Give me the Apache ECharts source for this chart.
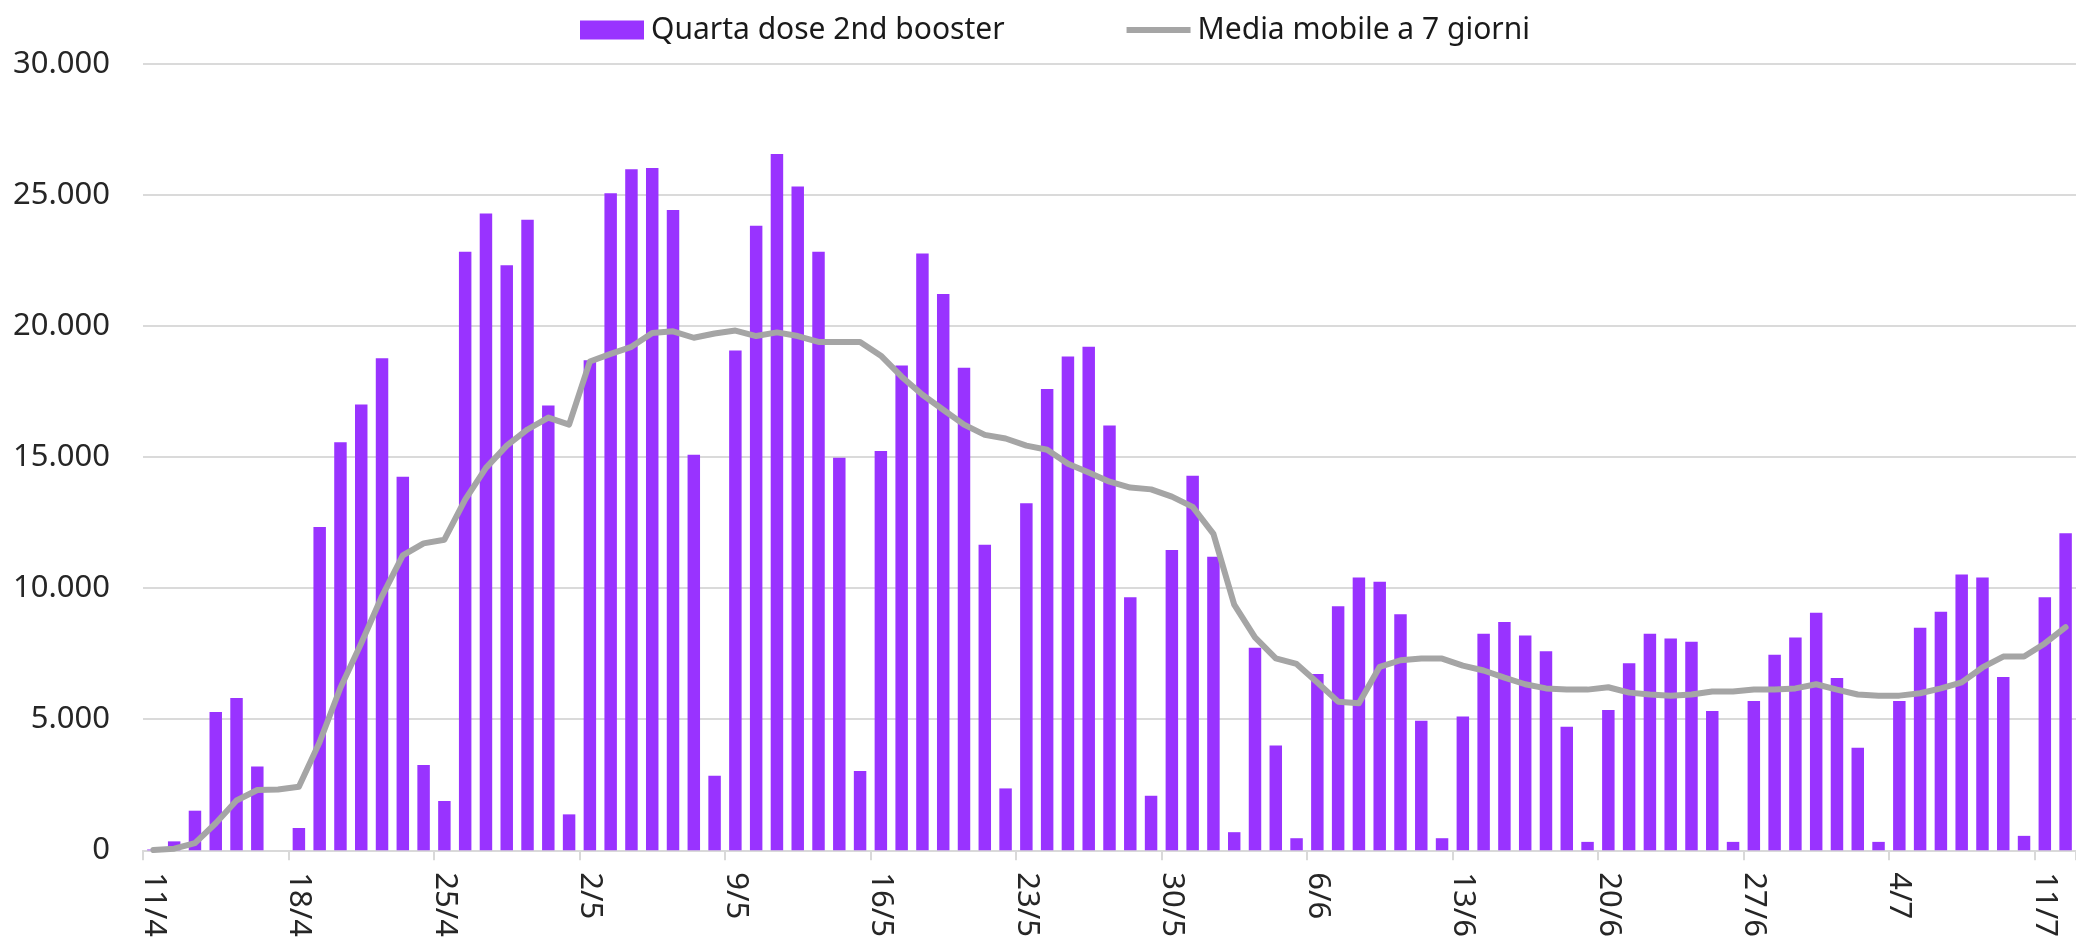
<!DOCTYPE html>
<html>
<head>
<meta charset="utf-8">
<script src="https://cdn.jsdelivr.net/npm/echarts@6/dist/echarts.min.js"></script>
<style>
    html, body { margin: 0; padding: 0; background: #ffffff; }
    #chart { width: 2076px; height: 940px; }
</style>
</head>
<body>
<div id="chart"></div>
<script>
// giorni, 11/4 -> 12/7
var days = [
    '11/4', '12/4', '13/4', '14/4', '15/4', '16/4', '17/4', '18/4', '19/4', '20/4',
    '21/4', '22/4', '23/4', '24/4', '25/4', '26/4', '27/4', '28/4', '29/4', '30/4',
    '1/5', '2/5', '3/5', '4/5', '5/5', '6/5', '7/5', '8/5', '9/5', '10/5',
    '11/5', '12/5', '13/5', '14/5', '15/5', '16/5', '17/5', '18/5', '19/5', '20/5',
    '21/5', '22/5', '23/5', '24/5', '25/5', '26/5', '27/5', '28/5', '29/5', '30/5', '31/5',
    '1/6', '2/6', '3/6', '4/6', '5/6', '6/6', '7/6', '8/6', '9/6', '10/6',
    '11/6', '12/6', '13/6', '14/6', '15/6', '16/6', '17/6', '18/6', '19/6', '20/6',
    '21/6', '22/6', '23/6', '24/6', '25/6', '26/6', '27/6', '28/6', '29/6', '30/6',
    '1/7', '2/7', '3/7', '4/7', '5/7', '6/7', '7/7', '8/7', '9/7', '10/7', '11/7', '12/7'
];

var quartaDose = [
    30, 340, 1510, 5280, 5810, 3200, 0, 850, 12330, 15570,
    17010, 18770, 14250, 3250, 1880, 22840, 24300, 22320, 24060, 16970,
    1370, 18700, 25070, 25980, 26030, 24430, 15090, 2840, 19070, 23830,
    26570, 25330, 22840, 14980, 3020, 15230, 18500, 22770, 21220, 18410,
    11660, 2360, 13240, 17600, 18840, 19210, 16210, 9650, 2080, 11460, 14290,
    11200, 690, 7730, 4000, 460, 6730, 9310, 10410, 10250, 9010,
    4940, 460, 5100, 8260, 8710, 8190, 7590, 4710, 320, 5350,
    7140, 8260, 8080, 7960, 5310, 320, 5700, 7460, 8120, 9060,
    6570, 3910, 320, 5700, 8490, 9100, 10520, 10410, 6610, 550, 9650, 12100
];

var mediaMobile = [
    10, 60, 275, 1030, 1900, 2300, 2320, 2425, 4130, 6200,
    7900, 9700, 11250, 11710, 11850, 13380, 14590, 15440, 16055, 16510,
    16240, 18650, 18940, 19210, 19735, 19800, 19555, 19715, 19830, 19620,
    19760, 19620, 19395, 19395, 19395, 18870, 18070, 17380, 16810, 16240,
    15850, 15710, 15440, 15280, 14750, 14410, 14065, 13840, 13770, 13495, 13100,
    12075, 9375, 8120, 7320, 7110, 6405, 5670, 5610, 7000, 7250,
    7315, 7315, 7045, 6860, 6585, 6335, 6175, 6130, 6130, 6220,
    6015, 5945, 5900, 5945, 6060, 6060, 6130, 6130, 6175, 6335,
    6130, 5945, 5900, 5900, 5990, 6175, 6405, 6975, 7390, 7390, 7890, 8510
];

var yTicks = [0, 5000, 10000, 15000, 20000, 25000, 30000];

var seriesNames = ['Quarta dose 2nd booster', 'Media mobile a 7 giorni'];

function formatThousands(v) {
    return String(v).replace(/\B(?=(\d{3})+(?!\d))/g, '.');
}

var myChart = echarts.init(document.getElementById('chart'));

var option = {
    backgroundColor: '#ffffff',
    animation: false,
    textStyle: {
        fontFamily: 'Noto Sans'
    },
    legend: {
        left: 575,
        top: 10,
        itemWidth: 64,
        itemHeight: 19,
        itemGap: 122,
        data: [
            { name: seriesNames[0], icon: 'rect' },
            // grey bar, like the line sample of the original
            { name: seriesNames[1], icon: 'path://M0,0 L66,0 L66,6 L0,6 Z' }
        ],
        textStyle: {
            fontFamily: 'Noto Sans',
            fontSize: 30,
            color: '#1a1a1a',
            padding: [0, 0, 0, 2]
        }
    },
    grid: {
        left: 143,
        right: 0,
        top: 64,
        bottom: 88
    },
    xAxis: {
        type: 'category',
        data: days,
        boundaryGap: true,
        axisLine: {
            lineStyle: { color: '#d9d9d9', width: 2 }
        },
        axisTick: {
            show: true,
            interval: 6,
            length: 10,
            lineStyle: { color: '#d9d9d9', width: 2 }
        },
        axisLabel: {
            interval: 6,
            rotate: -90,
            margin: 22,
            fontSize: 31,
            color: '#262626'
        }
    },
    yAxis: {
        type: 'value',
        min: yTicks[0],
        max: yTicks[yTicks.length - 1],
        interval: yTicks[1] - yTicks[0],
        axisLine: { show: false },
        axisTick: { show: false },
        splitLine: {
            lineStyle: { color: '#dadada', width: 2 }
        },
        axisLabel: {
            margin: 33,
            fontSize: 31,
            color: '#262626',
            formatter: function (v) {
                return formatThousands(v);
            }
        }
    },
    series: [
        {
            name: seriesNames[0],
            type: 'bar',
            data: quartaDose,
            barWidth: '60%',
            itemStyle: { color: '#9933ff' }
        },
        {
            name: seriesNames[1],
            type: 'line',
            data: mediaMobile,
            symbol: 'none',
            smooth: false,
            z: 5,
            lineStyle: {
                color: '#a5a5a5',
                width: 6,
                cap: 'round',
                join: 'round'
            },
            itemStyle: { color: '#a5a5a5' }
        }
    ]
};

myChart.setOption(option);
</script>
</body>
</html>
